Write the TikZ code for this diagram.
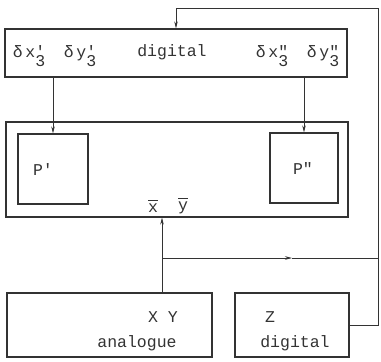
\documentclass[tikz,border=0pt]{standalone}
\usepackage{fontspec}
\setmonofont{Liberation Mono}
\usetikzlibrary{arrows.meta,calc,positioning}
\definecolor{InkGray}{HTML}{333333}
\newcommand{\dshift}[2]{δ\,#1\rlap{#2}\raisebox{-1ex}{3}}

\begin{document}
\begin{tikzpicture}[x=1pt,y=-1pt,
    box/.style={draw=InkGray,line width=1.2pt,rectangle,inner sep=0pt},
    wire/.style={draw=InkGray,line width=0.6pt},
    lbl/.style={font=\ttfamily\fontsize{16.5}{18}\selectfont,text=InkGray,inner sep=0pt},
    >={Stealth[length=7pt,width=3.5pt]}]
    \useasboundingbox (0,0) rectangle (381,362);
    \node[box,minimum width=342pt,minimum height=48pt] (dig) at (176,53) {};
    \node[box,minimum width=342pt,minimum height=95pt] (sys) at (177,169.5) {};
    \node[box,minimum width=70pt,minimum height=70pt] (p1) at (53,169) {};
    \node[box,minimum width=68pt,minimum height=70pt] (p2) at (304,168) {};
    \node[box,minimum width=205pt,minimum height=64pt] (ana) at (109.5,325) {};
    \node[box,minimum width=114pt,minimum height=64pt] (zbox) at (292,325) {};
    \node[lbl] (dx1) at (29,56) {\dshift{x}{'}};
    \node[lbl] (dy1) at (80,56) {\dshift{y}{'}};
    \node[lbl] (digtxt) at (172,52) {digital};
    \node[lbl] (dx2) at (272,56) {\dshift{x}{"}};
    \node[lbl] (dy2) at (323,56) {\dshift{y}{"}};
    \node[lbl] (p1txt) at (43,170) {P'};
    \node[lbl] (p2txt) at (303,169) {P"};
    \node[lbl] (xbar) at (153,206) {$\overline{\hbox{\vphantom{X}x}}$};
    \node[lbl] (ybar) at (183,206) {$\overline{\hbox{\vphantom{X}y}}$};
    \node[lbl] (xy) at (163,317) {X Y};
    \node[lbl] (anatxt) at (137,343) {analogue};
    \node[lbl] (ztxt) at (270,317) {Z};
    \node[lbl] (zdig) at (295,343) {digital};
    \coordinate (tr) at (378,8);
    \coordinate (tap) at (162,258);
    \coordinate (mid) at (292,258);
    \draw[wire,->] (dig.south -| p1.north) -- (p1.north);
    \draw[wire,->] (dig.south -| p2.north) -- (p2.north);
    \draw[wire,->] (ana.north -| tap) -- (sys.south -| tap);
    \draw[wire,->] (tap) -- (mid);
    \draw[wire] (mid) -- (mid -| tr);
    \draw[wire,->] (zbox.east) -- (zbox.east -| tr) -- (tr) -- (tr -| dig.north) -- (dig.north);
\end{tikzpicture}
\end{document}
